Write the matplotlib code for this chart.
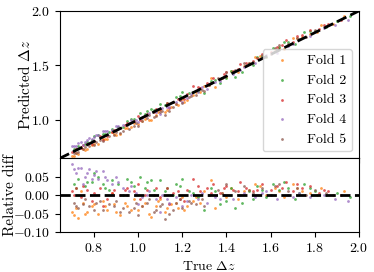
import matplotlib
matplotlib.use("Agg")
import matplotlib.pyplot as plt
import numpy as np

plt.rcParams['font.family'] = 'serif'
plt.rcParams['font.serif'] = ['cmr10']
plt.rcParams['mathtext.fontset'] = 'cm'
plt.rcParams['axes.formatter.use_mathtext'] = True
plt.rcParams['font.size'] = 10

#----------------------------- data: true dz and relative diff per fold -----------------------------
fold_labels = ['Fold 1', 'Fold 2', 'Fold 3', 'Fold 4', 'Fold 5']
fold_colors = ['tab:orange', 'tab:green', 'tab:red', 'tab:purple', 'tab:brown']

true_f1 = [0.71, 0.72, 0.73, 0.75, 0.77, 0.79, 0.82, 0.84, 0.86, 0.89, 0.92, 0.95, 0.98, 1.00, 1.03,
           1.05, 1.08, 1.10, 1.12, 1.15, 1.18, 1.20, 1.22, 1.25, 1.28, 1.30, 1.33, 1.35, 1.38, 1.42,
           1.45, 1.50, 1.55, 1.58, 1.62, 1.66, 1.70, 1.74, 1.78, 1.83, 1.88, 1.93, 0.74, 0.88, 1.06,
           0.70, 0.76, 0.80, 0.85, 0.90, 0.94, 0.97, 1.02, 1.09, 1.13, 1.17, 1.21, 1.26, 1.32, 1.40,
           1.48, 1.53, 1.64, 1.72, 1.81]
diff_f1 = [-0.055, -0.035, -0.062, -0.02, -0.045, -0.03, -0.05, -0.015, -0.04, -0.025, -0.055, -0.03,
           -0.01, -0.04, -0.02, -0.05, -0.03, -0.01, -0.045, -0.025, -0.035, -0.005, -0.03, -0.015,
           -0.02, 0.01, 0.04, -0.035, 0.005, 0.02, -0.01, 0.015, 0.025, 0.0, 0.02, -0.005, 0.03, 0.01,
           0.005, 0.02, 0.0, 0.01, 0.01, 0.005, -0.06,
           -0.045, -0.05, -0.025, -0.03, -0.045, -0.02, -0.04, -0.03, -0.015, -0.035, -0.02, -0.04,
           -0.005, 0.0, -0.005, 0.01, 0.03, 0.01, 0.02, 0.0]

true_f2 = [0.71, 0.73, 0.76, 0.79, 0.82, 0.85, 0.88, 0.91, 0.95, 0.98, 1.01, 1.04, 1.07, 1.10, 1.13,
           1.17, 1.20, 1.23, 1.27, 1.30, 1.33, 1.37, 1.40, 1.44, 1.47, 1.50, 1.54, 1.58, 1.61, 1.64,
           1.68, 1.71, 1.75, 1.80, 1.85, 1.90, 1.96, 0.93, 1.16, 0.80,
           0.72, 0.77, 0.84, 0.87, 0.97, 1.03, 1.06, 1.12, 1.19, 1.25, 1.35, 1.42, 1.52, 1.56, 1.66,
           1.73, 1.78]
diff_f2 = [0.03, 0.045, 0.025, 0.035, 0.05, 0.02, 0.04, 0.03, 0.045, 0.025, 0.05, 0.035, 0.015, 0.04,
           0.02, 0.03, 0.045, 0.01, -0.005, -0.04, 0.02, -0.025, -0.015, -0.035, -0.02, 0.01, 0.025,
           -0.005, 0.03, 0.015, 0.02, -0.01, 0.03, 0.01, 0.0, 0.005, -0.005, 0.0, 0.0, 0.06,
           0.02, 0.035, 0.03, 0.015, 0.035, 0.02, 0.04, 0.01, 0.025, 0.005, 0.01, 0.02, -0.01, 0.015,
           0.035, 0.005, 0.02]

true_f3 = [0.70, 0.72, 0.74, 0.77, 0.80, 0.83, 0.86, 0.89, 0.92, 0.95, 0.98, 1.01, 1.04, 1.07, 1.10,
           1.13, 1.16, 1.19, 1.22, 1.25, 1.28, 1.31, 1.34, 1.37, 1.40, 1.43, 1.46, 1.49, 1.52, 1.56,
           1.60, 1.63, 1.67, 1.70, 1.74, 1.78, 1.82, 1.86, 1.92, 0.84, 1.00, 1.14,
           0.71, 0.75, 0.79, 0.88, 0.94, 1.03, 1.08, 1.18, 1.21, 1.27, 1.33, 1.39, 1.45, 1.54, 1.65,
           1.72, 1.84]
diff_f3 = [0.01, 0.02, -0.005, 0.015, 0.005, 0.02, -0.01, 0.015, 0.0, 0.02, 0.01, -0.01, 0.015, 0.0,
           -0.005, 0.02, 0.005, -0.01, 0.015, 0.045, 0.01, 0.02, 0.03, 0.005, 0.025, 0.015, 0.035,
           0.02, 0.01, 0.03, 0.015, 0.025, 0.035, 0.01, 0.02, 0.025, 0.005, 0.01, 0.0, -0.03, 0.03,
           -0.025,
           0.0, 0.025, -0.015, 0.005, 0.015, 0.0, 0.02, 0.01, -0.015, 0.025, 0.005, 0.02, 0.01, 0.015,
           0.02, 0.03, 0.015]

true_f4 = [0.70, 0.72, 0.74, 0.76, 0.78, 0.80, 0.82, 0.84, 0.86, 0.88, 0.90, 0.93, 0.96, 0.99, 1.02,
           1.05, 1.08, 1.11, 1.14, 1.17, 1.20, 1.24, 1.27, 1.31, 1.35, 1.39, 1.43, 1.48, 1.53, 1.58,
           1.63, 1.68, 1.73, 1.78, 1.84, 1.89, 1.95, 1.10, 1.00, 0.75,
           0.71, 0.73, 0.77, 0.79, 0.81, 0.85, 0.91, 0.97, 1.04, 1.13, 1.22, 1.29, 1.37, 1.46, 1.56,
           1.70]
diff_f4 = [0.085, 0.06, 0.075, 0.05, 0.07, 0.055, 0.045, 0.065, 0.04, 0.03, 0.05, 0.02, 0.01, 0.005,
           -0.005, 0.01, -0.01, 0.0, -0.02, -0.005, -0.03, 0.0, -0.01, -0.02, -0.005, 0.0, -0.01,
           0.005, -0.005, 0.01, -0.01, 0.0, 0.005, -0.005, 0.0, -0.01, -0.015, -0.045, -0.025, 0.03,
           0.07, 0.075, 0.06, 0.045, 0.065, 0.05, 0.035, 0.025, 0.0, -0.01, -0.015, 0.005, -0.01,
           0.0, 0.005, -0.005]

true_f5 = [0.71, 0.73, 0.76, 0.78, 0.81, 0.84, 0.87, 0.90, 0.93, 0.96, 0.99, 1.02, 1.05, 1.08, 1.11,
           1.14, 1.17, 1.20, 1.23, 1.26, 1.29, 1.32, 1.36, 1.40, 1.44, 1.48, 1.52, 1.56, 1.60, 1.64,
           1.68, 1.72, 1.76, 1.80, 1.85, 0.95, 1.12, 1.00,
           0.72, 0.75, 0.80, 0.83, 0.89, 0.92, 0.98, 1.04, 1.07, 1.10, 1.16, 1.19, 1.24, 1.30, 1.38,
           1.50, 1.62]
diff_f5 = [-0.02, -0.035, -0.01, -0.03, -0.02, -0.04, -0.025, -0.015, -0.035, -0.045, -0.02, -0.03,
           -0.01, -0.04, -0.025, -0.05, -0.02, -0.035, -0.015, -0.025, -0.01, 0.0, 0.015, 0.03, 0.01,
           0.025, 0.005, 0.02, 0.0, 0.03, 0.01, 0.02, 0.0, 0.015, 0.005, 0.0, -0.065, -0.055,
           -0.03, -0.025, -0.04, -0.015, -0.03, -0.045, -0.035, -0.02, -0.045, -0.03, -0.04, -0.01,
           -0.02, -0.03, 0.005, 0.015, 0.025]

true_all = [true_f1, true_f2, true_f3, true_f4, true_f5]
diff_all = [diff_f1, diff_f2, diff_f3, diff_f4, diff_f5]

#----------------------------- plot -----------------------------
fig, (ax1, ax2) = plt.subplots(2, 1, sharex=True, figsize=(3.74, 2.72), dpi=100,
                               gridspec_kw={'height_ratios': [2, 1], 'hspace': 0})
fig.subplots_adjust(left=0.160, right=0.960, top=0.960, bottom=0.147)

for t, d, lab, col in zip(true_all, diff_all, fold_labels, fold_colors):
    t = np.array(t)
    d = np.array(d)
    pred = t * (1 + d)
    ax1.scatter(t, pred, s=4, color=col, alpha=0.75, lw=0, label=lab)
    ax2.scatter(t, d, s=4, color=col, alpha=0.75, lw=0)

lo, hi = 0.646, 2.0
ax1.plot([lo, hi], [lo, hi], 'k--', lw=2, zorder=5)
ax2.axhline(0, color='k', ls='--', lw=2, zorder=5)

ax1.set_xlim(lo, hi)
ax1.set_ylim(lo, hi)
ax1.set_yticks([1.0, 1.5, 2.0])
ax1.set_ylabel(r'Predicted $\Delta z$', fontsize=11)
ax1.yaxis.set_label_coords(-0.09, 0.5)
ax1.legend(loc='lower right')

ax2.set_ylim(-0.1, 0.1)
ax2.set_yticks([-0.10, -0.05, 0.00, 0.05])
ax2.set_xticks([0.8, 1.0, 1.2, 1.4, 1.6, 1.8, 2.0])
ax2.set_ylabel('Relative diff', fontsize=11)
ax2.yaxis.set_label_coords(-0.144, 0.5)
ax2.set_xlabel(r'True $\Delta z$')

plt.savefig('out.png', dpi=100)
